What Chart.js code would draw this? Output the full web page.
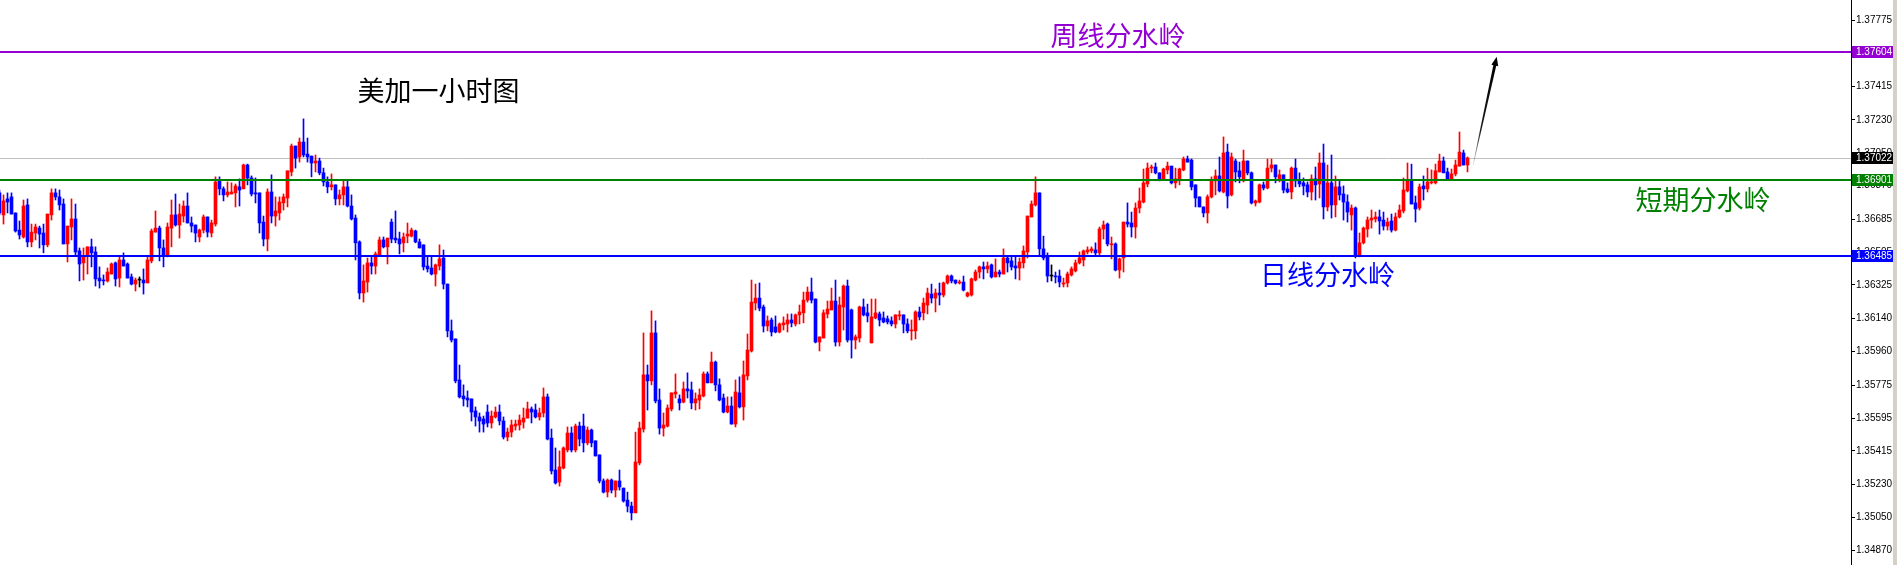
<!DOCTYPE html>
<html>
<head>
<meta charset="utf-8">
<title>美加一小时图</title>
<script src="https://cdn.jsdelivr.net/npm/chart.js"></script>
<style>
  html, body { margin: 0; padding: 0; background: #d4d0c8; }
  #wrap { width: 1893px; height: 565px; background: #ffffff; }
</style>
</head>
<body>
<div id="wrap"><canvas id="chart" width="1893" height="565"></canvas></div>
<script>
// hourly USDCAD candles (oldest first)
const open = [
  1.36830, 1.36709, 1.36797, 1.36808, 1.36720, 1.36626, 1.36588, 1.36764, 1.36561, 1.36610,
  1.36637, 1.36610, 1.36545, 1.36709, 1.36830, 1.36808, 1.36769, 1.36550, 1.36643, 1.36687,
  1.36512, 1.36446, 1.36490, 1.36534, 1.36506, 1.36363, 1.36352, 1.36347, 1.36385, 1.36446,
  1.36363, 1.36462, 1.36440, 1.36369, 1.36330, 1.36352, 1.36352, 1.36336, 1.36457, 1.36615,
  1.36637, 1.36528, 1.36484, 1.36637, 1.36709, 1.36654, 1.36703, 1.36758, 1.36665, 1.36654,
  1.36588, 1.36626, 1.36698, 1.36610, 1.36659, 1.36896, 1.36852, 1.36819, 1.36824, 1.36830,
  1.36863, 1.36852, 1.36983, 1.36912, 1.36830, 1.36830, 1.36670, 1.36577, 1.36835, 1.36703,
  1.36720, 1.36775, 1.36802, 1.36945, 1.37087, 1.37027, 1.37109, 1.37043, 1.37032, 1.36994,
  1.37005, 1.36940, 1.36890, 1.36863, 1.36874, 1.36797, 1.36819, 1.36863, 1.36758, 1.36692,
  1.36561, 1.36281, 1.36341, 1.36446, 1.36429, 1.36490, 1.36572, 1.36534, 1.36670, 1.36582,
  1.36577, 1.36556, 1.36593, 1.36593, 1.36621, 1.36561, 1.36545, 1.36429, 1.36418, 1.36385,
  1.36429, 1.36473, 1.36330, 1.36073, 1.36029, 1.35804, 1.35716, 1.35705, 1.35700, 1.35634,
  1.35601, 1.35590, 1.35628, 1.35568, 1.35601, 1.35628, 1.35579, 1.35491, 1.35518, 1.35551,
  1.35557, 1.35573, 1.35595, 1.35645, 1.35639, 1.35601, 1.35623, 1.35711, 1.35485, 1.35310,
  1.35244, 1.35321, 1.35420, 1.35513, 1.35420, 1.35551, 1.35551, 1.35459, 1.35529, 1.35470,
  1.35393, 1.35250, 1.35189, 1.35255, 1.35200, 1.35250, 1.35211, 1.35145, 1.35112, 1.35075,
  1.35349, 1.35535, 1.35832, 1.35799, 1.36062, 1.35694, 1.35540, 1.35551, 1.35645, 1.35727,
  1.35700, 1.35683, 1.35755, 1.35749, 1.35678, 1.35694, 1.35716, 1.35837, 1.35788, 1.35902,
  1.35777, 1.35705, 1.35628, 1.35661, 1.35562, 1.35733, 1.35656, 1.35826, 1.35963, 1.36226,
  1.36253, 1.36204, 1.36100, 1.36133, 1.36095, 1.36067, 1.36106, 1.36111, 1.36133, 1.36111,
  1.36161, 1.36172, 1.36242, 1.36286, 1.36248, 1.36012, 1.36034, 1.36166, 1.36188, 1.36237,
  1.36012, 1.36204, 1.36319, 1.36188, 1.36023, 1.36034, 1.36204, 1.36172, 1.36007, 1.36144,
  1.36166, 1.36144, 1.36139, 1.36128, 1.36111, 1.36155, 1.36161, 1.36111, 1.36073, 1.36073,
  1.36177, 1.36172, 1.36215, 1.36275, 1.36253, 1.36281, 1.36270, 1.36336, 1.36374, 1.36352,
  1.36336, 1.36341, 1.36264, 1.36270, 1.36352, 1.36396, 1.36424, 1.36413, 1.36435, 1.36369,
  1.36396, 1.36385, 1.36473, 1.36457, 1.36429, 1.36418, 1.36446, 1.36506, 1.36698, 1.36764,
  1.36830, 1.36523, 1.36484, 1.36374, 1.36374, 1.36374, 1.36330, 1.36336, 1.36380, 1.36402,
  1.36446, 1.36462, 1.36506, 1.36512, 1.36517, 1.36501, 1.36632, 1.36659, 1.36545, 1.36550,
  1.36407, 1.36473, 1.36670, 1.36665, 1.36643, 1.36747, 1.36780, 1.36879, 1.36966, 1.36972,
  1.36940, 1.36907, 1.36956, 1.36977, 1.36885, 1.36901, 1.36956, 1.37016, 1.37010, 1.36874,
  1.36808, 1.36753, 1.36720, 1.36808, 1.36896, 1.36923, 1.36835, 1.37054, 1.36819, 1.37005,
  1.36951, 1.36896, 1.37005, 1.36940, 1.36775, 1.36780, 1.36874, 1.36857, 1.36966, 1.36983,
  1.36907, 1.36929, 1.36852, 1.36835, 1.36966, 1.36901, 1.36885, 1.36874, 1.36835, 1.36907,
  1.36879, 1.36994, 1.36753, 1.36885, 1.36764, 1.36863, 1.36824, 1.36780, 1.36709, 1.36747,
  1.36490, 1.36556, 1.36632, 1.36681, 1.36687, 1.36698, 1.36681, 1.36648, 1.36676, 1.36626,
  1.36698, 1.36731, 1.36841, 1.36901, 1.36775, 1.36747, 1.36868, 1.36852, 1.36885, 1.36885,
  1.36945, 1.37005, 1.36945, 1.36901, 1.36934, 1.36977, 1.37049, 1.36983
];
const high = [
  1.36846, 1.36819, 1.36830, 1.36830, 1.36720, 1.36676, 1.36791, 1.36797, 1.36659, 1.36659,
  1.36648, 1.36659, 1.36714, 1.36852, 1.36852, 1.36846, 1.36797, 1.36648, 1.36797, 1.36769,
  1.36528, 1.36528, 1.36534, 1.36577, 1.36534, 1.36424, 1.36380, 1.36418, 1.36446, 1.36451,
  1.36484, 1.36501, 1.36446, 1.36385, 1.36363, 1.36369, 1.36413, 1.36479, 1.36632, 1.36731,
  1.36648, 1.36572, 1.36665, 1.36791, 1.36824, 1.36769, 1.36786, 1.36830, 1.36698, 1.36654,
  1.36632, 1.36709, 1.36698, 1.36681, 1.36918, 1.36918, 1.36863, 1.36890, 1.36885, 1.36879,
  1.36907, 1.36988, 1.36988, 1.36923, 1.36912, 1.36830, 1.36703, 1.36852, 1.36929, 1.36808,
  1.36808, 1.36824, 1.36951, 1.37098, 1.37087, 1.37131, 1.37236, 1.37131, 1.37032, 1.37038,
  1.37021, 1.36966, 1.36918, 1.36934, 1.36874, 1.36846, 1.36901, 1.36896, 1.36819, 1.36709,
  1.36567, 1.36435, 1.36473, 1.36479, 1.36506, 1.36588, 1.36588, 1.36582, 1.36687, 1.36731,
  1.36615, 1.36610, 1.36665, 1.36637, 1.36626, 1.36577, 1.36545, 1.36479, 1.36479, 1.36440,
  1.36545, 1.36517, 1.36330, 1.36133, 1.36029, 1.35886, 1.35777, 1.35744, 1.35700, 1.35656,
  1.35623, 1.35606, 1.35667, 1.35634, 1.35656, 1.35667, 1.35601, 1.35540, 1.35584, 1.35584,
  1.35612, 1.35650, 1.35683, 1.35656, 1.35672, 1.35650, 1.35760, 1.35727, 1.35535, 1.35431,
  1.35415, 1.35437, 1.35546, 1.35546, 1.35562, 1.35573, 1.35617, 1.35546, 1.35535, 1.35470,
  1.35393, 1.35261, 1.35261, 1.35261, 1.35250, 1.35310, 1.35211, 1.35189, 1.35134, 1.35518,
  1.35573, 1.36062, 1.35886, 1.36183, 1.36128, 1.35755, 1.35623, 1.35667, 1.35733, 1.35837,
  1.35722, 1.35793, 1.35843, 1.35793, 1.35733, 1.35755, 1.35848, 1.35848, 1.35957, 1.35908,
  1.35810, 1.35727, 1.35711, 1.35711, 1.35804, 1.35821, 1.35908, 1.36056, 1.36352, 1.36330,
  1.36336, 1.36215, 1.36155, 1.36144, 1.36155, 1.36117, 1.36150, 1.36166, 1.36166, 1.36166,
  1.36215, 1.36286, 1.36314, 1.36363, 1.36248, 1.36040, 1.36188, 1.36237, 1.36308, 1.36352,
  1.36259, 1.36325, 1.36352, 1.36193, 1.36051, 1.36209, 1.36248, 1.36220, 1.36248, 1.36248,
  1.36177, 1.36177, 1.36155, 1.36150, 1.36161, 1.36183, 1.36161, 1.36139, 1.36133, 1.36183,
  1.36204, 1.36253, 1.36308, 1.36330, 1.36303, 1.36336, 1.36341, 1.36380, 1.36380, 1.36352,
  1.36352, 1.36374, 1.36286, 1.36363, 1.36407, 1.36429, 1.36451, 1.36451, 1.36440, 1.36468,
  1.36407, 1.36523, 1.36479, 1.36479, 1.36479, 1.36473, 1.36539, 1.36703, 1.36786, 1.36918,
  1.36830, 1.36593, 1.36501, 1.36435, 1.36396, 1.36407, 1.36363, 1.36396, 1.36424, 1.36462,
  1.36506, 1.36517, 1.36534, 1.36534, 1.36556, 1.36643, 1.36676, 1.36665, 1.36588, 1.36556,
  1.36473, 1.36670, 1.36775, 1.36725, 1.36775, 1.36857, 1.36961, 1.36994, 1.36983, 1.36994,
  1.36940, 1.36966, 1.36999, 1.36977, 1.36966, 1.36966, 1.37027, 1.37032, 1.37016, 1.36874,
  1.36808, 1.36753, 1.36819, 1.36918, 1.36956, 1.37027, 1.37137, 1.37098, 1.37049, 1.37016,
  1.36999, 1.37065, 1.37005, 1.36945, 1.36791, 1.36879, 1.36890, 1.37016, 1.37016, 1.36983,
  1.36956, 1.36929, 1.36885, 1.36972, 1.37016, 1.36940, 1.36912, 1.36890, 1.36929, 1.36972,
  1.37049, 1.37098, 1.36983, 1.37038, 1.36923, 1.36901, 1.36868, 1.36819, 1.36764, 1.36753,
  1.36610, 1.36643, 1.36698, 1.36736, 1.36725, 1.36736, 1.36725, 1.36692, 1.36714, 1.36720,
  1.36764, 1.36912, 1.36994, 1.36988, 1.36813, 1.36879, 1.36923, 1.36966, 1.36956, 1.36988,
  1.37043, 1.37027, 1.36966, 1.36961, 1.37010, 1.37164, 1.37065, 1.37027
];
const low = [
  1.36709, 1.36659, 1.36720, 1.36714, 1.36615, 1.36577, 1.36582, 1.36534, 1.36534, 1.36572,
  1.36528, 1.36501, 1.36534, 1.36681, 1.36791, 1.36736, 1.36550, 1.36451, 1.36572, 1.36490,
  1.36347, 1.36352, 1.36385, 1.36424, 1.36319, 1.36308, 1.36325, 1.36341, 1.36385, 1.36319,
  1.36314, 1.36429, 1.36363, 1.36325, 1.36292, 1.36314, 1.36275, 1.36336, 1.36446, 1.36615,
  1.36457, 1.36424, 1.36479, 1.36534, 1.36648, 1.36582, 1.36670, 1.36665, 1.36615, 1.36561,
  1.36561, 1.36610, 1.36588, 1.36588, 1.36648, 1.36819, 1.36786, 1.36808, 1.36824, 1.36753,
  1.36758, 1.36852, 1.36874, 1.36813, 1.36775, 1.36610, 1.36539, 1.36512, 1.36665, 1.36648,
  1.36681, 1.36736, 1.36753, 1.36923, 1.36966, 1.36999, 1.37027, 1.36999, 1.36918, 1.36945,
  1.36929, 1.36868, 1.36830, 1.36846, 1.36764, 1.36764, 1.36764, 1.36753, 1.36681, 1.36462,
  1.36248, 1.36231, 1.36286, 1.36385, 1.36385, 1.36490, 1.36528, 1.36440, 1.36556, 1.36556,
  1.36495, 1.36506, 1.36556, 1.36588, 1.36556, 1.36528, 1.36407, 1.36396, 1.36380, 1.36319,
  1.36407, 1.36303, 1.36040, 1.36012, 1.35788, 1.35705, 1.35661, 1.35656, 1.35579, 1.35551,
  1.35518, 1.35518, 1.35546, 1.35540, 1.35595, 1.35557, 1.35480, 1.35470, 1.35491, 1.35529,
  1.35529, 1.35540, 1.35595, 1.35568, 1.35595, 1.35584, 1.35601, 1.35475, 1.35288, 1.35233,
  1.35222, 1.35316, 1.35409, 1.35409, 1.35409, 1.35442, 1.35409, 1.35448, 1.35437, 1.35387,
  1.35239, 1.35184, 1.35162, 1.35184, 1.35162, 1.35200, 1.35134, 1.35080, 1.35036, 1.35075,
  1.35338, 1.35518, 1.35639, 1.35777, 1.35678, 1.35507, 1.35496, 1.35546, 1.35634, 1.35705,
  1.35639, 1.35678, 1.35705, 1.35645, 1.35639, 1.35645, 1.35711, 1.35788, 1.35788, 1.35744,
  1.35689, 1.35623, 1.35623, 1.35562, 1.35546, 1.35650, 1.35584, 1.35804, 1.35957, 1.36188,
  1.36183, 1.36067, 1.36073, 1.36045, 1.36062, 1.36062, 1.36078, 1.36067, 1.36095, 1.36100,
  1.36111, 1.36117, 1.36231, 1.36226, 1.36007, 1.35963, 1.36034, 1.36144, 1.36188, 1.35990,
  1.35990, 1.36078, 1.36012, 1.35924, 1.35974, 1.36012, 1.36155, 1.36122, 1.36007, 1.36139,
  1.36100, 1.36117, 1.36111, 1.36100, 1.36089, 1.36133, 1.36062, 1.36062, 1.36023, 1.36029,
  1.36133, 1.36133, 1.36166, 1.36226, 1.36177, 1.36215, 1.36259, 1.36330, 1.36336, 1.36330,
  1.36330, 1.36292, 1.36259, 1.36264, 1.36347, 1.36363, 1.36358, 1.36391, 1.36363, 1.36369,
  1.36369, 1.36385, 1.36396, 1.36407, 1.36358, 1.36352, 1.36418, 1.36473, 1.36698, 1.36758,
  1.36490, 1.36462, 1.36341, 1.36347, 1.36336, 1.36314, 1.36314, 1.36314, 1.36374, 1.36396,
  1.36440, 1.36429, 1.36495, 1.36501, 1.36490, 1.36490, 1.36577, 1.36539, 1.36468, 1.36402,
  1.36363, 1.36396, 1.36643, 1.36588, 1.36582, 1.36720, 1.36775, 1.36863, 1.36940, 1.36934,
  1.36896, 1.36901, 1.36934, 1.36879, 1.36857, 1.36874, 1.36951, 1.36999, 1.36846, 1.36753,
  1.36753, 1.36698, 1.36665, 1.36802, 1.36819, 1.36835, 1.36830, 1.36747, 1.36813, 1.36890,
  1.36885, 1.36890, 1.36929, 1.36769, 1.36758, 1.36775, 1.36846, 1.36852, 1.36945, 1.36885,
  1.36890, 1.36830, 1.36830, 1.36797, 1.36863, 1.36863, 1.36819, 1.36808, 1.36791, 1.36791,
  1.36802, 1.36687, 1.36731, 1.36692, 1.36698, 1.36791, 1.36681, 1.36670, 1.36626, 1.36473,
  1.36479, 1.36550, 1.36588, 1.36637, 1.36670, 1.36604, 1.36626, 1.36626, 1.36615, 1.36621,
  1.36692, 1.36720, 1.36835, 1.36769, 1.36670, 1.36736, 1.36791, 1.36835, 1.36879, 1.36879,
  1.36945, 1.36940, 1.36907, 1.36901, 1.36923, 1.36977, 1.36983, 1.36945
];
const close = [
  1.36720, 1.36786, 1.36780, 1.36714, 1.36621, 1.36599, 1.36758, 1.36561, 1.36615, 1.36643,
  1.36604, 1.36545, 1.36714, 1.36830, 1.36808, 1.36764, 1.36550, 1.36648, 1.36687, 1.36506,
  1.36440, 1.36479, 1.36534, 1.36501, 1.36358, 1.36347, 1.36347, 1.36396, 1.36440, 1.36358,
  1.36462, 1.36429, 1.36363, 1.36330, 1.36352, 1.36352, 1.36336, 1.36462, 1.36621, 1.36637,
  1.36528, 1.36484, 1.36643, 1.36709, 1.36654, 1.36714, 1.36758, 1.36665, 1.36648, 1.36610,
  1.36626, 1.36698, 1.36615, 1.36665, 1.36890, 1.36852, 1.36819, 1.36835, 1.36835, 1.36868,
  1.36846, 1.36983, 1.36912, 1.36824, 1.36824, 1.36665, 1.36577, 1.36835, 1.36703, 1.36731,
  1.36780, 1.36808, 1.36951, 1.37087, 1.37021, 1.37109, 1.37038, 1.37027, 1.36994, 1.37005,
  1.36940, 1.36890, 1.36863, 1.36874, 1.36797, 1.36819, 1.36863, 1.36758, 1.36687, 1.36556,
  1.36281, 1.36347, 1.36446, 1.36429, 1.36495, 1.36572, 1.36534, 1.36582, 1.36577, 1.36572,
  1.36550, 1.36588, 1.36604, 1.36626, 1.36561, 1.36528, 1.36424, 1.36413, 1.36385, 1.36435,
  1.36468, 1.36330, 1.36073, 1.36023, 1.35799, 1.35711, 1.35700, 1.35694, 1.35628, 1.35601,
  1.35579, 1.35562, 1.35568, 1.35606, 1.35628, 1.35579, 1.35491, 1.35518, 1.35557, 1.35562,
  1.35584, 1.35595, 1.35645, 1.35628, 1.35601, 1.35623, 1.35711, 1.35480, 1.35305, 1.35239,
  1.35327, 1.35431, 1.35513, 1.35420, 1.35551, 1.35480, 1.35459, 1.35529, 1.35459, 1.35387,
  1.35250, 1.35189, 1.35255, 1.35200, 1.35250, 1.35217, 1.35140, 1.35112, 1.35075, 1.35354,
  1.35540, 1.35832, 1.35799, 1.36062, 1.35689, 1.35540, 1.35557, 1.35650, 1.35733, 1.35738,
  1.35678, 1.35755, 1.35744, 1.35678, 1.35700, 1.35722, 1.35837, 1.35788, 1.35902, 1.35777,
  1.35694, 1.35628, 1.35661, 1.35562, 1.35738, 1.35656, 1.35832, 1.35968, 1.36231, 1.36253,
  1.36198, 1.36100, 1.36128, 1.36067, 1.36067, 1.36111, 1.36117, 1.36133, 1.36117, 1.36161,
  1.36177, 1.36242, 1.36286, 1.36242, 1.36012, 1.36040, 1.36172, 1.36193, 1.36237, 1.36012,
  1.36215, 1.36319, 1.36023, 1.36023, 1.36040, 1.36204, 1.36161, 1.36155, 1.36150, 1.36172,
  1.36133, 1.36122, 1.36122, 1.36111, 1.36161, 1.36161, 1.36111, 1.36073, 1.36078, 1.36177,
  1.36150, 1.36226, 1.36281, 1.36253, 1.36281, 1.36270, 1.36336, 1.36374, 1.36347, 1.36336,
  1.36341, 1.36297, 1.36281, 1.36358, 1.36396, 1.36424, 1.36413, 1.36429, 1.36369, 1.36396,
  1.36385, 1.36473, 1.36446, 1.36424, 1.36418, 1.36451, 1.36512, 1.36703, 1.36769, 1.36830,
  1.36523, 1.36473, 1.36374, 1.36374, 1.36369, 1.36341, 1.36336, 1.36385, 1.36413, 1.36446,
  1.36473, 1.36512, 1.36517, 1.36523, 1.36501, 1.36632, 1.36654, 1.36550, 1.36550, 1.36407,
  1.36468, 1.36670, 1.36659, 1.36643, 1.36747, 1.36786, 1.36885, 1.36966, 1.36972, 1.36940,
  1.36907, 1.36961, 1.36977, 1.36885, 1.36907, 1.36961, 1.37016, 1.36999, 1.36863, 1.36802,
  1.36753, 1.36720, 1.36808, 1.36901, 1.36923, 1.36841, 1.37049, 1.36813, 1.37027, 1.36945,
  1.36918, 1.37005, 1.36940, 1.36775, 1.36786, 1.36874, 1.36857, 1.36966, 1.36983, 1.36918,
  1.36929, 1.36846, 1.36835, 1.36966, 1.36896, 1.36879, 1.36868, 1.36835, 1.36907, 1.36874,
  1.36994, 1.36753, 1.36885, 1.36764, 1.36863, 1.36819, 1.36780, 1.36725, 1.36747, 1.36484,
  1.36556, 1.36637, 1.36681, 1.36692, 1.36698, 1.36676, 1.36648, 1.36670, 1.36626, 1.36698,
  1.36736, 1.36846, 1.36901, 1.36769, 1.36742, 1.36863, 1.36852, 1.36890, 1.36890, 1.36951,
  1.37005, 1.36940, 1.36907, 1.36934, 1.36983, 1.37054, 1.36983, 1.37022
];

// price scale labels as printed on the right axis
const tickValues = [
  1.34870, 1.35050, 1.35230, 1.35415, 1.35595, 1.35775, 1.35960, 1.36140, 1.36325,
  1.36505, 1.36685, 1.36870, 1.37050, 1.37230, 1.37415, 1.37595, 1.37775
];

// horizontal levels: weekly, current bid, short-term, daily
const levelValues = [1.37604, 1.37022, 1.36901, 1.36485];

// text notes, anchored at (bar number, price)
const noteTexts = ['周线分水岭', '美加一小时图', '短期分水岭', '日线分水岭'];
const noteBars = [279.6, 109.75, 425.9, 332];
const notePrices = [1.37691, 1.37389, 1.36791, 1.36380];

// hand-drawn arrow, from / to (bar number, price)
const arrowBars = [368.4, 374.3];
const arrowPrices = [1.36983, 1.37577];

const UP = '#ff0000';
const DOWN = '#0000ff';
const FLAT = '#000000';
const levelLineColors = ['#9400d3', '#c0c0c0', '#008000', '#0000ff'];
const levelBoxColors = ['#9400d3', '#000000', '#008000', '#0000ff'];
const noteColors = ['#9400d3', '#000000', '#008000', '#0000ff'];

const bars = open.map((o, i) => i);
const candleColors = bars.map(i => close[i] > open[i] ? UP : (close[i] < open[i] ? DOWN : FLAT));

const overlay = {
  id: 'overlay',
  beforeDatasetsDraw(chart) {
    const { ctx, chartArea: a, scales: { y } } = chart;
    // bid line sits behind the candles
    const py = Math.round(y.getPixelForValue(levelValues[1])) + 0.5;
    ctx.save();
    ctx.strokeStyle = levelLineColors[1];
    ctx.lineWidth = 1;
    ctx.beginPath();
    ctx.moveTo(a.left, py);
    ctx.lineTo(a.right, py);
    ctx.stroke();
    ctx.restore();
  },
  afterDatasetsDraw(chart) {
    const { ctx, chartArea: a, scales: { x, y } } = chart;
    ctx.save();
    levelValues.forEach((v, i) => {
      if (i === 1) return;
      const py = Math.round(y.getPixelForValue(v));
      ctx.strokeStyle = levelLineColors[i];
      ctx.lineWidth = 2;
      ctx.beginPath();
      ctx.moveTo(a.left, py);
      ctx.lineTo(a.right, py);
      ctx.stroke();
    });

    // arrow: tapered shaft, pale at the start, black at the head
    const x0 = x.getPixelForValue(arrowBars[0]), y0 = y.getPixelForValue(arrowPrices[0]);
    const x1 = x.getPixelForValue(arrowBars[1]), y1 = y.getPixelForValue(arrowPrices[1]);
    const ang = Math.atan2(y1 - y0, x1 - x0);
    const c = Math.cos(ang), s = Math.sin(ang);
    const hx = x1 - 8 * c, hy = y1 - 8 * s;
    const grad = ctx.createLinearGradient(x0, y0, hx, hy);
    grad.addColorStop(0, 'rgba(0,0,0,0.15)');
    grad.addColorStop(0.35, 'rgba(0,0,0,0.9)');
    grad.addColorStop(1, '#000');
    ctx.fillStyle = grad;
    ctx.beginPath();
    ctx.moveTo(x0 + 0.3 * s, y0 - 0.3 * c);
    ctx.lineTo(hx + 1.5 * s, hy - 1.5 * c);
    ctx.lineTo(hx - 1.5 * s, hy + 1.5 * c);
    ctx.lineTo(x0 - 0.3 * s, y0 + 0.3 * c);
    ctx.closePath();
    ctx.fill();
    ctx.fillStyle = '#000';
    ctx.beginPath();
    ctx.moveTo(x1, y1);
    ctx.lineTo(x1 - 9 * c + 3.5 * s, y1 - 9 * s - 3.5 * c);
    ctx.lineTo(x1 - 9 * c - 3.5 * s, y1 - 9 * s + 3.5 * c);
    ctx.closePath();
    ctx.fill();

    // notes
    ctx.font = '27px "Noto Sans CJK SC"';
    ctx.textAlign = 'center';
    ctx.textBaseline = 'middle';
    noteTexts.forEach((t, i) => {
      ctx.fillStyle = noteColors[i];
      ctx.fillText(t, x.getPixelForValue(noteBars[i]), y.getPixelForValue(notePrices[i]));
    });
    ctx.restore();
  },
  afterDraw(chart) {
    const { ctx, chartArea: a, scales: { y } } = chart;
    ctx.save();
    ctx.font = '10px "Liberation Sans"';
    ctx.textAlign = 'left';
    ctx.textBaseline = 'middle';
    levelValues.forEach((v, i) => {
      const py = Math.round(y.getPixelForValue(v));
      ctx.fillStyle = levelBoxColors[i];
      ctx.fillRect(a.right + 1, py - 6, chart.width - a.right - 1, 12);
      ctx.fillStyle = '#ffffff';
      ctx.fillText(v.toFixed(5), a.right + 5, py + 0.5);
    });
    ctx.restore();
  }
};

new Chart(document.getElementById('chart'), {
  type: 'bar',
  data: {
    datasets: [
      {
        label: 'wick',
        data: bars.map(i => ({ x: i, y: [low[i], high[i]] })),
        backgroundColor: candleColors,
        barThickness: 1,
        grouped: false,
        order: 2
      },
      {
        label: 'body',
        data: bars.map(i => ({ x: i, y: [open[i], close[i]] })),
        backgroundColor: candleColors,
        barThickness: 3,
        minBarLength: 1,
        grouped: false,
        order: 1
      }
    ]
  },
  options: {
    responsive: false,
    animation: false,
    events: [],
    layout: { padding: 0 },
    plugins: { legend: { display: false }, tooltip: { enabled: false } },
    scales: {
      x: { type: 'linear', min: 0.125, max: 462.875, offset: false, display: false },
      y: {
        position: 'right',
        min: 1.34789,
        max: 1.37888,
        afterBuildTicks: s => { s.ticks = tickValues.map(v => ({ value: v })); },
        afterFit: s => { s.width = 42; s.paddingTop = 0; s.paddingBottom = 0; },
        ticks: {
          autoSkip: false,
          padding: 1,
          color: '#000',
          font: { family: 'Liberation Sans', size: 10 },
          callback: v => v.toFixed(5)
        },
        grid: { drawOnChartArea: false, drawTicks: true, tickLength: 4, color: '#000' },
        border: { display: true, color: '#000' }
      }
    }
  },
  plugins: [overlay]
});
</script>
</body>
</html>
